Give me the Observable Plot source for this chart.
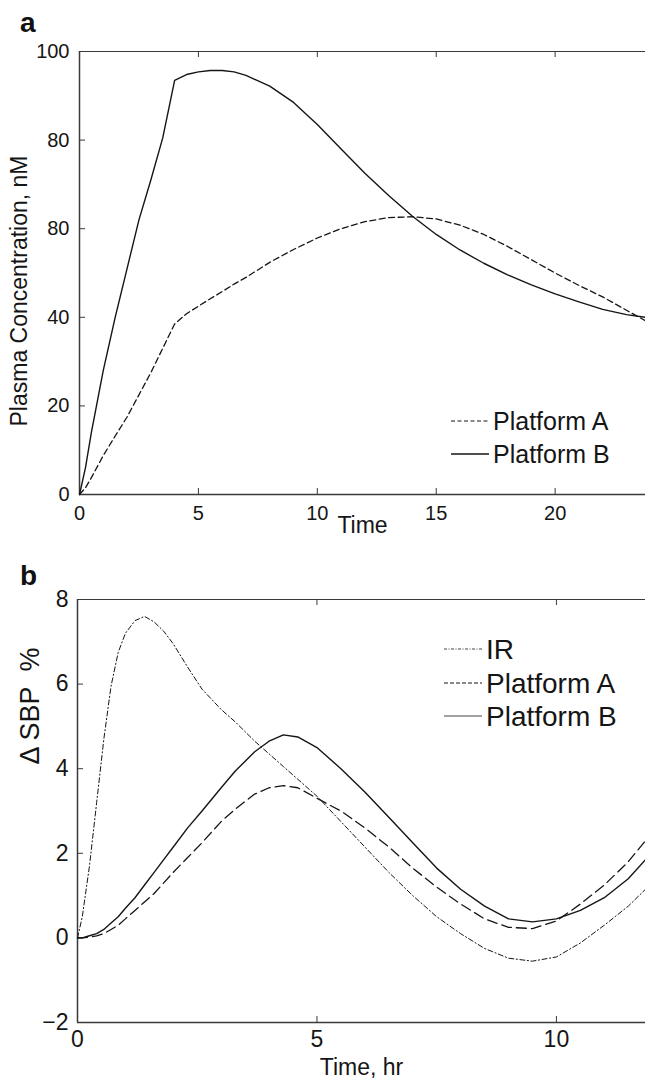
<!DOCTYPE html>
<html><head><meta charset="utf-8">
<script src="https://cdn.jsdelivr.net/npm/d3@7"></script>
<script src="https://cdn.jsdelivr.net/npm/@observablehq/plot@0.6"></script>
<style>
body{margin:0;background:#fff;font-family:"Liberation Sans",Arial,sans-serif;}
#wrap{position:relative;width:645px;height:1082px;overflow:hidden;}
.panel{position:absolute;left:0;}
.tag{position:absolute;font-weight:bold;color:#111;font-size:28px;line-height:1;}
.leg{position:absolute;left:0;top:0;}
</style></head><body><div id="wrap"></div>
<script>
// ---------- Panel a data ----------
const timeA = [0,0.25,0.5,0.75,1,1.5,2,2.5,3,3.5,4,4.5,5,5.5,6,6.5,7,8,9,10,11,12,13,14,15,16,17,18,19,20,21,22,23,23.8];
const concPlatformB = [0,6,14,21,28,40,51,62,71,80.5,93.5,94.8,95.4,95.7,95.7,95.4,94.6,92.2,88.5,83.5,78,72.5,67.5,62.8,58.7,55.2,52.2,49.6,47.3,45.3,43.5,41.8,40.6,40];
const concPlatformA = [0,1.5,3.8,6.3,8.8,13.2,17.5,22.5,27.5,33,38.5,40.8,42.5,44.2,45.8,47.5,49,52.4,55.3,57.9,60,61.6,62.5,62.7,62.2,60.8,58.7,56,53,50,47.2,44.6,41.6,39.2];
const xTicksA = [0,5,10,15,20];
const yTicksA = [0,20,40,60,80,100];
const yTickLabelsA = ["0","20","40","80","80","100"];

// ---------- Panel b data ----------
const timeB = [0,0.1,0.25,0.4,0.55,0.7,0.85,1.0,1.2,1.4,1.6,1.8,2.0,2.3,2.6,3.0,3.3,3.7,4.0,4.3,4.6,5,5.5,6,6.5,7,7.5,8,8.5,9,9.5,10,10.5,11,11.5,11.86];
const sbpIR = [0,0.5,1.7,3.2,4.7,5.95,6.75,7.2,7.5,7.6,7.47,7.25,6.95,6.4,5.88,5.4,5.1,4.65,4.35,4.05,3.75,3.35,2.75,2.15,1.55,1.0,0.5,0.1,-0.25,-0.48,-0.55,-0.45,-0.12,0.3,0.75,1.15];
const sbpPlatformA = [0,0,0.02,0.05,0.1,0.2,0.3,0.45,0.65,0.85,1.05,1.3,1.55,1.9,2.25,2.75,3.05,3.4,3.55,3.6,3.55,3.3,3.0,2.6,2.15,1.65,1.2,0.8,0.45,0.25,0.22,0.4,0.8,1.25,1.8,2.3];
const sbpPlatformB = [0,0,0.05,0.1,0.2,0.35,0.5,0.7,0.95,1.25,1.55,1.85,2.15,2.6,3.0,3.55,3.95,4.4,4.65,4.8,4.75,4.5,4.0,3.45,2.85,2.25,1.65,1.15,0.75,0.45,0.38,0.45,0.65,0.95,1.4,1.85];
const xTicksB = [0,5,10];
const yTicksB = [-2,0,2,4,6,8];

const FONT = '"Liberation Sans", Arial, sans-serif';
const INK = "#151515";
const FRAME = "#3a3a3a";

function makePanel(cfg) {
  const pw = 645 - cfg.ml, ph = cfg.height - cfg.mt - cfg.mb;
  const [x0, x1] = cfg.xDomain, [y0, y1] = cfg.yDomain;
  const lineMarks = cfg.series.map(s => Plot.line(s.t.map((t, i) => ({t, v: s.v[i]})), {
    x: "t", y: "v", stroke: INK, strokeWidth: s.width, strokeDasharray: s.dash, curve: "linear"
  }));
  return Plot.plot({
    width: 645, height: cfg.height,
    marginTop: cfg.mt, marginBottom: cfg.mb, marginLeft: cfg.ml, marginRight: 0,
    style: {fontFamily: FONT, color: INK, background: "transparent", overflow: "visible"},
    x: {domain: cfg.xDomain},
    y: {domain: cfg.yDomain},
    marks: [
      Plot.ruleY([y1], {stroke: FRAME, strokeWidth: 1.2}),
      Plot.ruleY([y0], {stroke: FRAME, strokeWidth: 1.5}),
      Plot.ruleX([x0], {stroke: FRAME, strokeWidth: 1.5}),
      Plot.tickX(cfg.xTicks, {x: d => d, stroke: FRAME, insetTop: ph - 6}),
      Plot.tickX(cfg.xTicks, {x: d => d, stroke: FRAME, insetBottom: ph - 6}),
      Plot.tickY(cfg.yTicks, {y: d => d, stroke: FRAME, insetRight: pw - 6}),
      ...lineMarks,
      Plot.axisX(cfg.xTicks, {tickSize: 0, tickPadding: cfg.xPad, fontSize: cfg.tickFont, label: null, fill: INK}),
      Plot.axisY(cfg.yTicks, {tickSize: 0, tickPadding: cfg.yPad, fontSize: cfg.tickFont, label: null, fill: INK,
        tickFormat: cfg.yFormat}),
      Plot.text([cfg.xLabel], {frameAnchor: "bottom", textAnchor: "middle", dy: cfg.xLabelDy, fontSize: cfg.xLabelFont, fill: INK}),
      Plot.text([cfg.yLabel], {frameAnchor: "left", textAnchor: "middle", dx: cfg.yLabelDx, dy: cfg.yLabelDy, rotate: -90, fontSize: cfg.yLabelFont, fill: INK})
    ]
  });
}

const wrap = document.getElementById("wrap");

const pa = makePanel({
  height: 560, mt: 51, mb: 66, ml: 79,
  xDomain: [0, 23.8], yDomain: [0, 100],
  xTicks: xTicksA, yTicks: yTicksA,
  yFormat: d => yTickLabelsA[yTicksA.indexOf(d)],
  tickFont: 20, xPad: 11, yPad: 10,
  xLabel: "Time", xLabelDy: 38, xLabelFont: 23,
  yLabel: "Plasma Concentration, nM", yLabelDx: -60, yLabelDy: 18, yLabelFont: 23,
  series: [
    {t: timeA, v: concPlatformA, dash: "6,3.5", width: 1.3},
    {t: timeA, v: concPlatformB, dash: null, width: 1.4}
  ]
});
pa.classList.add("panel"); pa.style.top = "0px";
wrap.appendChild(pa);

const pb = makePanel({
  height: 522, mt: 39, mb: 60, ml: 77,
  xDomain: [0, 11.86], yDomain: [-2, 8],
  xTicks: xTicksB, yTicks: yTicksB,
  yFormat: d => d < 0 ? "\u2212" + Math.abs(d) : String(d),
  tickFont: 23, xPad: 8, yPad: 9,
  xLabel: "Time, hr", xLabelDy: 52, xLabelFont: 23,
  yLabel: "\u0394 SBP\u00a0\u00a0%", yLabelDx: -47, yLabelDy: -105, yLabelFont: 27,
  series: [
    {t: timeB, v: sbpIR, dash: "5,2.5,1.2,2.5", width: 1.0},
    {t: timeB, v: sbpPlatformA, dash: "10,5", width: 1.3},
    {t: timeB, v: sbpPlatformB, dash: null, width: 1.4}
  ]
});
pb.classList.add("panel"); pb.style.top = "560px";
wrap.appendChild(pb);

// panel tags
for (const [txt, top] of [["a", 9], ["b", 562]]) {
  const d = document.createElement("div");
  d.className = "tag"; d.textContent = txt;
  d.style.left = "20px"; d.style.top = top + "px";
  wrap.appendChild(d);
}

// legends
const NS = "http://www.w3.org/2000/svg";
const leg = document.createElementNS(NS, "svg");
leg.setAttribute("class", "leg"); leg.setAttribute("width", 645); leg.setAttribute("height", 1082);
const legendItems = [
  {label: "Platform A", y: 421, x1: 451, x2: 489, tx: 493, fs: 25, dash: "4,2.5", w: 1.2},
  {label: "Platform B", y: 454, x1: 451, x2: 489, tx: 493, fs: 25, dash: null, w: 1.3},
  {label: "IR", y: 649, x1: 444, x2: 482, tx: 486, fs: 28, dash: "3,1.5,1,1.5", w: 0.8},
  {label: "Platform A", y: 683, x1: 444, x2: 482, tx: 486, fs: 28, dash: "4,2", w: 1.2},
  {label: "Platform B", y: 716, x1: 444, x2: 482, tx: 486, fs: 28, dash: null, w: 0.8}
];
for (const it of legendItems) {
  const l = document.createElementNS(NS, "line");
  l.setAttribute("x1", it.x1); l.setAttribute("x2", it.x2);
  l.setAttribute("y1", it.y); l.setAttribute("y2", it.y);
  l.setAttribute("stroke", INK); l.setAttribute("stroke-width", it.w);
  if (it.dash) l.setAttribute("stroke-dasharray", it.dash);
  leg.appendChild(l);
  const t = document.createElementNS(NS, "text");
  t.setAttribute("x", it.tx); t.setAttribute("y", it.y);
  t.setAttribute("dominant-baseline", "central");
  t.setAttribute("font-family", FONT); t.setAttribute("font-size", it.fs);
  t.setAttribute("fill", INK);
  t.textContent = it.label;
  leg.appendChild(t);
}
wrap.appendChild(leg);
</script></body></html>
